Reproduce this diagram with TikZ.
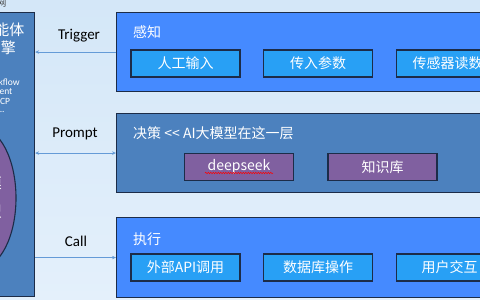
\documentclass[tikz,border=0pt]{standalone}
\usepackage{fontspec}
\setmainfont{Noto Sans CJK SC}
\newfontfamily\lat{Carlito}
\usetikzlibrary{decorations.pathmorphing,arrows.meta}
\definecolor{bgtop}{RGB}{212,231,248}
\definecolor{bgbot}{RGB}{228,240,251}
\definecolor{brightblue}{RGB}{69,138,255}
\definecolor{skyblue}{RGB}{40,160,245}
\definecolor{steelblue}{RGB}{76,129,190}
\definecolor{violet}{RGB}{128,96,160}
\definecolor{navy}{RGB}{28,44,72}
\definecolor{conncol}{RGB}{100,155,215}
\begin{document}
\begin{tikzpicture}[x=1pt,y=-1pt,
  panel/.style={draw=navy,line width=1.1pt,anchor=north west,inner sep=0pt},
  subbox/.style={draw=navy,line width=1.1pt,fill=skyblue,minimum width=109pt,minimum height=27pt,inner sep=0pt,text=white,font=\fontsize{14}{16}\selectfont},
  purplebox/.style={subbox,fill=violet},
  plabel/.style={anchor=west,text=white,inner sep=0pt,font=\fontsize{14}{16}\selectfont},
  conn/.style={draw=conncol,line width=0.8pt},
  clabel/.style={text=black,inner sep=0pt,font=\lat\fontsize{15}{17}\selectfont},
  small/.style={text=white,inner sep=0pt,font=\lat\fontsize{9.5}{10}\selectfont}]
\useasboundingbox (0,0) rectangle (480,300);
\clip (0,0) rectangle (480,300);
\shade[top color=bgtop,bottom color=bgbot] (0,0) rectangle (480,300);
% watermark fragment
\node[text=darkgray,inner sep=0pt,font=\fontsize{9}{10}\selectfont] (wm) at (2,3) {网};
% left engine panel
\node[panel,fill=steelblue,minimum width=66pt,minimum height=284pt] (L) at (-32,12) {};
\node[text=white,inner sep=0pt,font=\fontsize{15}{17}\selectfont] (lt1) at (2,30) {智能体};
\node[text=white,inner sep=0pt,font=\fontsize{15}{17}\selectfont] (lt2) at (1,48) {引擎};
\node[small] (s1) at (1,82) {Workflow};
\node[small] (s2) at (1,92) {Agent};
\node[small] (s3) at (1,101) {MCP};
\node[small] (s4) at (1,112) {...};
\draw[draw=navy,line width=1.1pt,fill=violet] (-20,198) ellipse [x radius=36pt,y radius=70pt];
\node[text=white,inner sep=0pt,font=\fontsize{15}{17}\selectfont] (e1) at (-5.5,183) {模};
\node[text=white,inner sep=0pt,font=\fontsize{15}{17}\selectfont] (e2) at (-5.5,212) {型};
% panels
\node[panel,fill=brightblue,minimum width=400pt,minimum height=79pt] (p1) at (116,12) {};
\node[panel,fill=steelblue,minimum width=400pt,minimum height=79pt] (p2) at (116,113) {};
\node[panel,fill=brightblue,minimum width=400pt,minimum height=80pt] (p3) at (116,217) {};
\node[plabel] (t1) at (133,32) {感知};
\node[plabel] (t2) at (133,133) {决策 <{}< AI大模型在这一层};
\node[plabel] (t3) at (133,239) {执行};
% sub boxes
\node[subbox] (a1) at (185.5,63.5) {人工输入};
\node[subbox] (a2) at (318,63.5) {传入参数};
\node[subbox,anchor=west,text width=109pt,align=left] (a3) at (396,63.5) {\hspace*{16pt}传感器读数};
\node[purplebox] (b1) at (239,167) {deepseek};
\node[purplebox] (b2) at (382.5,167) {知识库};
\node[subbox] (c1) at (185.5,267.5) {外部API调用};
\node[subbox] (c2) at (318,267.5) {数据库操作};
\node[subbox,anchor=west,text width=109pt,align=left] (c3) at (396,267.5) {\hspace*{25pt}用户交互};
\draw[red,line width=0.5pt,decorate,decoration={snake,amplitude=0.7pt,segment length=2.5pt}] ([xshift=-34pt,yshift=-6pt]b1.center) -- ([xshift=34pt,yshift=-6pt]b1.center);
% connectors
\draw[conn,-{Stealth[length=4pt,width=3.5pt]}] (p1.west) -- (p1.west -| L.east);
\node[clabel] (lb1) at (79,36) {Trigger};
\draw[conn,{Stealth[length=4pt,width=3.5pt]}-{Stealth[length=4pt,width=3.5pt]}] (p2.west -| L.east) -- (p2.west);
\node[clabel] (lb2) at (75,134) {Prompt};
\draw[conn,-{Stealth[length=4pt,width=3.5pt]}] (p3.west -| L.east) -- (p3.west);
\node[clabel] (lb3) at (76,241) {Call};
\end{tikzpicture}
\end{document}
